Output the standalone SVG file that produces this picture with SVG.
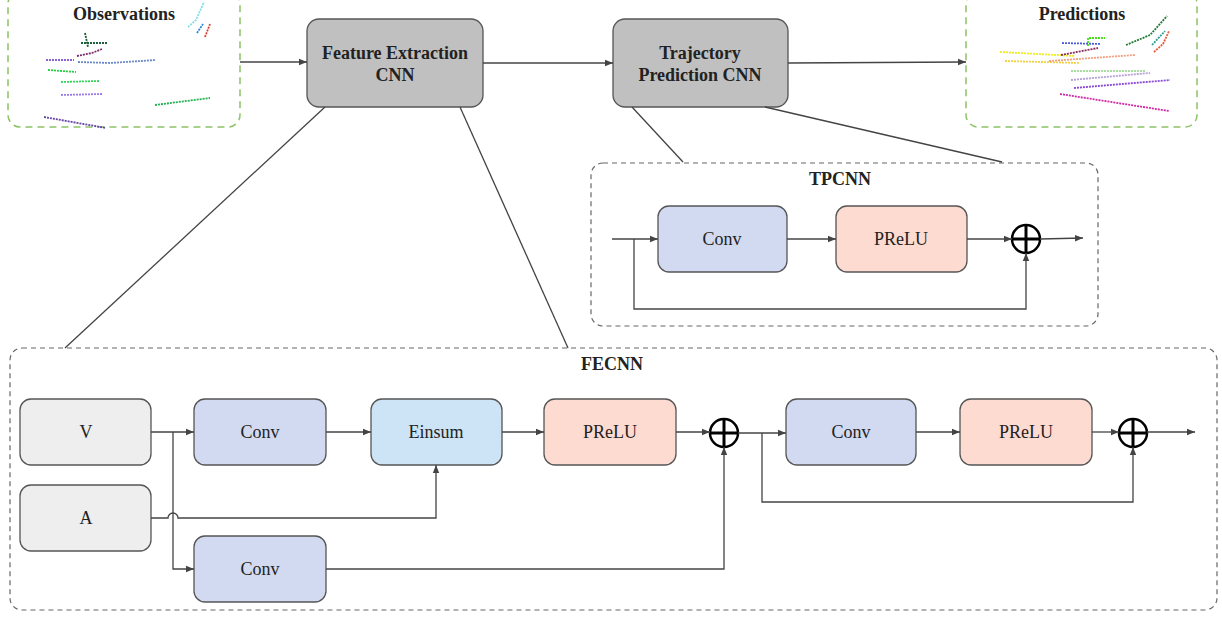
<svg xmlns="http://www.w3.org/2000/svg" width="1222" height="617" viewBox="0 0 1222 617">
<style>
text{font-family:'Liberation Serif','DejaVu Serif','Times New Roman',serif;fill:#222;text-anchor:middle}
.b{font-weight:bold;font-size:18px}
.r{font-size:18px}
.box{stroke:#555;stroke-width:1.3}
.main{fill:#c0c0c0}
.grey{fill:#eeeeee}
.conv{fill:#d2daf1}
.ein{fill:#cde3f6}
.prelu{fill:#fddbd1}
.dash{fill:none;stroke:#666;stroke-width:1.2;stroke-dasharray:5,4}
.gdash{fill:none;stroke:#8cc466;stroke-width:1.5;stroke-dasharray:7,5}
.c{fill:none;stroke:#444;stroke-width:1.3}
.ca{fill:none;stroke:#444;stroke-width:1.3;marker-end:url(#ah)}
.plus circle{fill:#fff;stroke:#000;stroke-width:2.5}
.plus line{stroke:#000;stroke-width:3}
.tr{fill:none;stroke-width:1.8;stroke-dasharray:2,1}
</style>
<defs>
<marker id="ah" viewBox="0 0 10 10" refX="10" refY="5" markerWidth="8" markerHeight="8" markerUnits="userSpaceOnUse" orient="auto">
<path d="M0,1 L10,5 L0,9 z" fill="#444"/>
</marker>
</defs>

<g id="observations">
<rect class="gdash" x="8" y="-8" width="232" height="135" rx="12"/>
<text class="b" x="124" y="20">Observations</text>
<g>
<path class="tr" stroke="#86e0ea" d="M188,27 L196,20 L204,2"/>
<path class="tr" stroke="#2a86d6" d="M197,33 L203,24"/>
<path class="tr" stroke="#e04030" d="M205,37 L210,24"/>
<path class="tr" stroke="#1d5e3a" d="M85,33 L88,47"/>
<path class="tr" stroke="#1d5e3a" stroke-width="1" d="M81,43 L108,43"/>
<path class="tr" stroke="#7a2a6a" d="M77,56 L92,53 L102,49"/>
<path class="tr" stroke="#8a62d6" d="M46,60 L74,60"/>
<path class="tr" stroke="#6a88c8" d="M78,62 L110,63 L156,60"/>
<path class="tr" stroke="#22d040" d="M48,70 L76,72"/>
<path class="tr" stroke="#33d55a" d="M61,82 L99,81"/>
<path class="tr" stroke="#9a7ae6" d="M61,95 L102,94"/>
<path class="tr" stroke="#22b050" d="M155,105 L210,98"/>
<path class="tr" stroke="#6444a4" d="M44,117 L106,128"/>
</g>
</g>

<g id="predictions">
<rect class="gdash" x="966" y="-8" width="231" height="135" rx="12"/>
<text class="b" x="1082" y="20">Predictions</text>
<g>
<path class="tr" stroke="#44e020" d="M1088,46 L1088,38 L1105,38"/>
<path class="tr" stroke="#4c5cd6" d="M1062,43 L1101,44"/>
<path class="tr" stroke="#1f7a36" d="M1126,45 L1150,35 L1167,16"/>
<path class="tr" stroke="#2a9a8e" d="M1152,45 L1165,31"/>
<path class="tr" stroke="#e8583a" d="M1154,52 L1163,44 L1169,31"/>
<path class="tr" stroke="#ecec20" d="M1000,52 L1075,56"/>
<path class="tr" stroke="#f2d040" d="M1005,61 L1080,63"/>
<path class="tr" stroke="#8a2a5a" d="M1061,55 L1098,48"/>
<path class="tr" stroke="#f0a080" d="M1049,61 L1135,55"/>
<path class="tr" stroke="#a8dca0" d="M1071,71 L1145,71"/>
<path class="tr" stroke="#b8a0d8" d="M1071,80 L1150,73"/>
<path class="tr" stroke="#8a4ad8" d="M1074,88 L1170,80"/>
<path class="tr" stroke="#d02aa8" d="M1060,94 L1169,111"/>
</g>
</g>

<g id="fe">
<rect class="box main" x="307" y="19" width="176" height="88" rx="12"/>
<text class="b" x="395" y="59">Feature Extraction</text>
<text class="b" x="395" y="81">CNN</text>
</g>

<g id="tp">
<rect class="box main" x="613" y="19" width="175" height="88" rx="12"/>
<text class="b" x="700" y="59">Trajectory</text>
<text class="b" x="700" y="81">Prediction CNN</text>
</g>

<g id="tpcnn">
<rect class="dash" x="591" y="163" width="507" height="163" rx="12"/>
<text class="b" x="840" y="185">TPCNN</text>
</g>
<g id="tp-conv">
<rect class="box conv" x="658" y="206" width="129" height="66" rx="11"/>
<text class="r" x="722" y="245">Conv</text>
</g>
<g id="tp-prelu">
<rect class="box prelu" x="836" y="206" width="131" height="66" rx="11"/>
<text class="r" x="901" y="245">PReLU</text>
</g>
<g id="tp-plus" class="plus">
<circle cx="1026" cy="239" r="14"/>
<line x1="1012" y1="239" x2="1040" y2="239"/>
<line x1="1026" y1="225" x2="1026" y2="253"/>
</g>

<g id="fecnn">
<rect class="dash" x="10" y="348" width="1207" height="262" rx="12"/>
<text class="b" x="612" y="370">FECNN</text>
</g>
<g id="v">
<rect class="box grey" x="20" y="399" width="131" height="66" rx="11"/>
<text class="r" x="86" y="438">V</text>
</g>
<g id="a">
<rect class="box grey" x="20" y="485" width="131" height="66" rx="11"/>
<text class="r" x="86" y="524">A</text>
</g>
<g id="conv1">
<rect class="box conv" x="194" y="399" width="132" height="66" rx="11"/>
<text class="r" x="260" y="438">Conv</text>
</g>
<g id="conv2">
<rect class="box conv" x="194" y="536" width="132" height="66" rx="11"/>
<text class="r" x="260" y="575">Conv</text>
</g>
<g id="einsum">
<rect class="box ein" x="371" y="399" width="131" height="66" rx="11"/>
<text class="r" x="436" y="438">Einsum</text>
</g>
<g id="prelu1">
<rect class="box prelu" x="544" y="399" width="132" height="66" rx="11"/>
<text class="r" x="610" y="438">PReLU</text>
</g>
<g id="plus1" class="plus">
<circle cx="724" cy="433" r="14"/>
<line x1="710" y1="433" x2="738" y2="433"/>
<line x1="724" y1="419" x2="724" y2="447"/>
</g>
<g id="conv3">
<rect class="box conv" x="786" y="399" width="130" height="66" rx="11"/>
<text class="r" x="851" y="438">Conv</text>
</g>
<g id="prelu2">
<rect class="box prelu" x="960" y="399" width="132" height="66" rx="11"/>
<text class="r" x="1026" y="438">PReLU</text>
</g>
<g id="plus2" class="plus">
<circle cx="1133" cy="433" r="14"/>
<line x1="1119" y1="433" x2="1147" y2="433"/>
<line x1="1133" y1="419" x2="1133" y2="447"/>
</g>

<g id="connectors">
<path class="ca" d="M240,62 L307,62"/>
<path class="ca" d="M483,63 L613,63"/>
<path class="ca" d="M788,63 L966,62"/>
<path class="c" d="M325,107 L65,348"/>
<path class="c" d="M460,107 L568,348"/>
<path class="c" d="M632,107 L683,162"/>
<path class="c" d="M765,107 L1002,162"/>
<path class="ca" d="M612,239 L658,239"/>
<path class="ca" d="M787,239 L836,239"/>
<path class="ca" d="M967,239 L1012,239"/>
<path class="ca" d="M634,239 L634,309 L1026,309 L1026,253"/>
<path class="ca" d="M1040,239 L1083,238"/>
<path class="ca" d="M151,432 L194,432"/>
<path class="ca" d="M173,432 L173,569 L194,569"/>
<path class="ca" d="M151,518 L168,518 A5,5 0 0 1 178,518 L436,518 L436,465"/>
<path class="ca" d="M326,432 L371,432"/>
<path class="ca" d="M502,432 L544,432"/>
<path class="ca" d="M676,432 L710,432"/>
<path class="ca" d="M326,569 L724,569 L724,447"/>
<path class="ca" d="M738,433 L786,433"/>
<path class="ca" d="M762,433 L762,502 L1133,502 L1133,447"/>
<path class="ca" d="M916,432 L960,432"/>
<path class="ca" d="M1092,432 L1119,432"/>
<path class="ca" d="M1147,432 L1195,432"/>
</g>
</svg>
